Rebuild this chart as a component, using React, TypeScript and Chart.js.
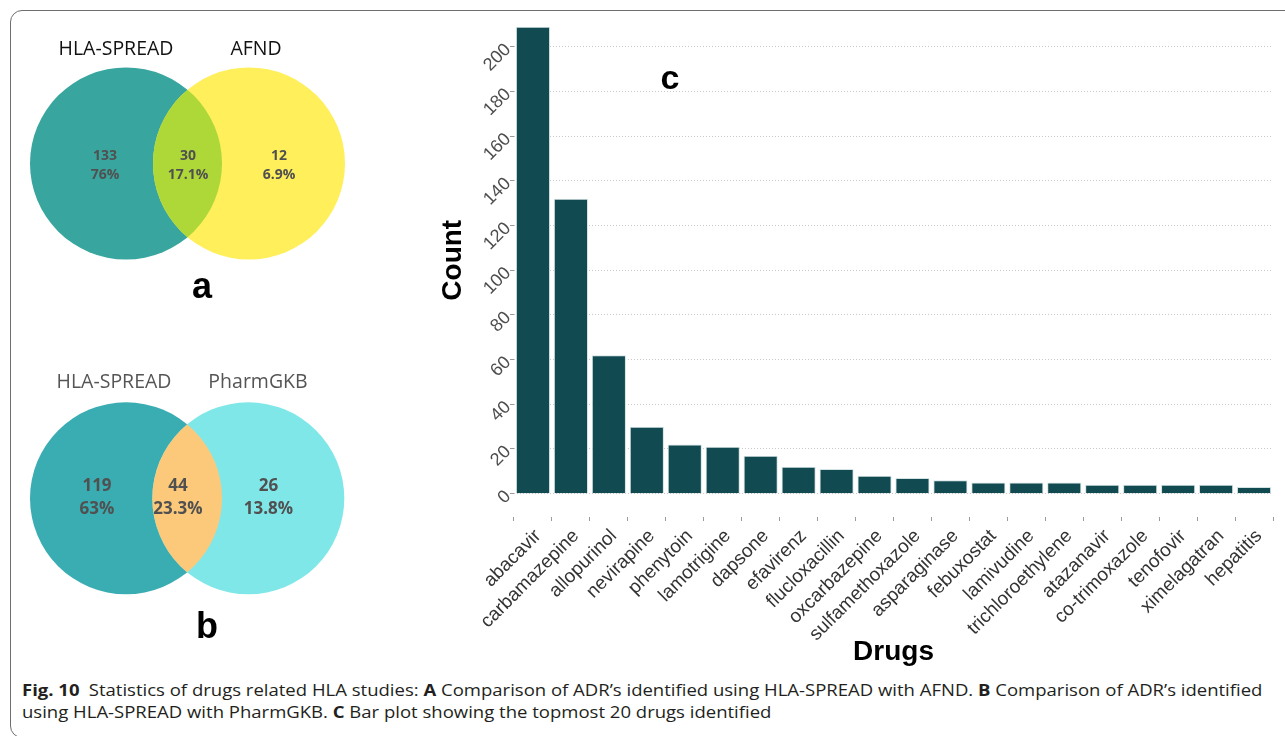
import React, { useEffect, useLayoutEffect, useRef } from 'react';
import { Chart, registerables } from 'chart.js';

Chart.register(...registerables);

// ---------- data ----------
const drugs = [
  'abacavir', 'carbamazepine', 'allopurinol', 'nevirapine', 'phenytoin',
  'lamotrigine', 'dapsone', 'efavirenz', 'flucloxacillin', 'oxcarbazepine',
  'sulfamethoxazole', 'asparaginase', 'febuxostat', 'lamivudine',
  'trichloroethylene', 'atazanavir', 'co-trimoxazole', 'tenofovir',
  'ximelagatran', 'hepatitis',
];
const counts = [209, 132, 62, 30, 22, 21, 17, 12, 11, 8, 7, 6, 5, 5, 5, 4, 4, 4, 4, 3];
const yTicks = [0, 20, 40, 60, 80, 100, 120, 140, 160, 180, 200];

const vennASets = ['HLA-SPREAD', 'AFND'];
const vennACounts = [133, 30, 12];
const vennAPcts = ['76%', '17.1%', '6.9%'];

const vennBSets = ['HLA-SPREAD', 'PharmGKB'];
const vennBCounts = [119, 44, 26];
const vennBPcts = ['63%', '23.3%', '13.8%'];

const ARIAL = "'Liberation Sans', Arial, Helvetica, sans-serif";
const OPEN = "'Open Sans', 'Noto Sans', sans-serif";

// ---------- lens plugin for venn ----------
const lensPlugin = {
  id: 'lens',
  afterDatasetsDraw(chart: any, _args: any, opts: any) {
    const els = chart.getDatasetMeta(0).data as any[];
    if (!els || els.length < 2) return;
    const a = els[0];
    const b = els[1];
    const ctx = chart.ctx as CanvasRenderingContext2D;
    ctx.save();
    ctx.beginPath();
    ctx.arc(a.x, a.y, a.options.radius, 0, Math.PI * 2);
    ctx.clip();
    ctx.beginPath();
    ctx.arc(b.x, b.y, b.options.radius, 0, Math.PI * 2);
    ctx.fillStyle = opts.color;
    ctx.fill();
    ctx.restore();
  },
};

type VennProps = {
  top: number;
  sets: string[];
  counts: number[];
  pcts: string[];
  colors: string[];
  lens: string;
  centers: { x: number; y: number }[];
  radius: number;
  titleColor: string;
  titleY: number;
  titleX: number[];
  numX: number[];
  numY: number[];
  numSize: number;
  tag: string;
  tagX: number;
  tagY: number;
};

function Venn(p: VennProps) {
  const ref = useRef<HTMLCanvasElement>(null);
  useEffect(() => {
    const chart = new Chart(ref.current as HTMLCanvasElement, {
      type: 'bubble',
      data: {
        datasets: [
          {
            data: p.centers.map((c) => ({ x: c.x, y: c.y, r: p.radius })),
            backgroundColor: p.colors,
            borderWidth: 0,
            clip: false,
          } as any,
        ],
      },
      options: {
        animation: false,
        responsive: false,
        maintainAspectRatio: false,
        layout: { padding: 0, autoPadding: false },
        events: [],
        plugins: {
          legend: { display: false },
          tooltip: { enabled: false },
          lens: { color: p.lens },
        } as any,
        scales: {
          x: { type: 'linear', display: false, min: 0, max: 430 },
          y: { type: 'linear', display: false, min: 0, max: 330, reverse: true },
        },
      } as any,
      plugins: [lensPlugin as any],
    });
    return () => chart.destroy();
  }, []);

  const center: React.CSSProperties = {
    position: 'absolute',
    transform: 'translate(-50%, -50%)',
    whiteSpace: 'nowrap',
  };
  return (
    <div style={{ position: 'absolute', left: 0, top: p.top, width: 430, height: 330 }}>
      <canvas ref={ref} width={430} height={330} style={{ position: 'absolute', left: 0, top: 0, width: 430, height: 330 }} />
      {p.sets.map((s, i) => (
        <div key={s + i} style={{ ...center, left: p.titleX[i], top: p.titleY, font: `400 19.5px ${OPEN}`, color: p.titleColor }}>
          {s}
        </div>
      ))}
      {p.counts.map((c, i) => (
        <div key={'n' + i} style={{ ...center, left: p.numX[i], top: p.numY[0], font: `700 ${p.numSize}px ${OPEN}`, color: '#505050' }}>
          {c}
        </div>
      ))}
      {p.pcts.map((c, i) => (
        <div key={'p' + i} style={{ ...center, left: p.numX[i], top: p.numY[1], font: `700 ${p.numSize}px ${OPEN}`, color: '#505050' }}>
          {c}
        </div>
      ))}
      <div style={{ ...center, left: p.tagX, top: p.tagY, font: `700 36px ${ARIAL}`, color: '#000' }}>{p.tag}</div>
    </div>
  );
}

function BarChart() {
  const ref = useRef<HTMLCanvasElement>(null);
  useEffect(() => {
    const chart = new Chart(ref.current as HTMLCanvasElement, {
      type: 'bar',
      data: {
        labels: drugs,
        datasets: [
          {
            data: counts,
            backgroundColor: '#124A51',
            borderColor: '#d3e2e2',
            borderWidth: 1,
            barPercentage: 0.9,
            categoryPercentage: 1,
          },
        ],
      },
      options: {
        animation: false,
        responsive: false,
        maintainAspectRatio: false,
        events: [],
        layout: { padding: { top: 3.5, right: 12, left: 0, bottom: 0 }, autoPadding: false },
        plugins: { legend: { display: false }, tooltip: { enabled: false } },
        scales: {
          x: {
            grid: {
              display: true,
              drawOnChartArea: false,
              drawTicks: true,
              tickLength: 4,
              tickColor: '#9a9a9a',
              tickWidth: 1,
            },
            border: { display: false },
            ticks: {
              autoSkip: false,
              minRotation: 45,
              maxRotation: 45,
              padding: 4,
              labelOffset: 5,
              color: '#333333',
              font: { family: ARIAL, size: 19 },
            },
            title: {
              display: true,
              text: 'Drugs',
              color: '#000',
              font: { family: ARIAL, size: 28, weight: 'bold' },
              padding: { top: 4, bottom: 3 },
            },
            afterFit: (s: any) => {
              s.height = 155;
              s.paddingLeft = 0;
              s.paddingRight = 0;
            },
          },
          y: {
            min: -10.45,
            max: 219.45,
            afterBuildTicks: (s: any) => {
              s.ticks = yTicks.map((v) => ({ value: v }));
            },
            grid: {
              color: '#c9c9c9',
              lineWidth: 1,
              drawTicks: true,
              tickLength: 4,
              tickColor: '#9a9a9a',
              tickBorderDash: [],
            },
            border: { display: false, dash: [1, 2] },
            ticks: {
              minRotation: 45,
              maxRotation: 45,
              padding: 2,
              color: '#4d4d4d',
              font: { family: ARIAL, size: 18 },
            },
            title: {
              display: true,
              text: 'Count',
              color: '#000',
              font: { family: ARIAL, size: 28, weight: 'bold' },
              padding: { top: 6, bottom: 0 },
            },
            afterFit: (s: any) => {
              s.width = 84;
              s.paddingTop = 0;
              s.paddingBottom = 0;
            },
          },
        },
      } as any,
    });
    return () => chart.destroy();
  }, []);
  return (
    <div style={{ position: 'absolute', left: 430, top: 0, width: 855, height: 672 }}>
      <canvas ref={ref} width={855} height={672} style={{ position: 'absolute', left: 0, top: 0, width: 855, height: 672 }} />
      <div style={{ position: 'absolute', left: 240, top: 77, transform: 'translate(-50%, -50%)', font: `700 34px ${ARIAL}`, color: '#000' }}>c</div>
    </div>
  );
}

function Caption() {
  const l1 = useRef<HTMLDivElement>(null);
  const l2 = useRef<HTMLDivElement>(null);
  useLayoutEffect(() => {
    const a = l1.current;
    const b = l2.current;
    if (!a || !b) return;
    const w = a.scrollWidth;
    const k = w > 0 ? 1240 / w : 1;
    a.style.transform = `scaleX(${k})`;
    b.style.transform = `scaleX(${k})`;
  }, []);
  const line: React.CSSProperties = {
    position: 'absolute',
    left: 22,
    whiteSpace: 'nowrap',
    font: `400 16.5px ${OPEN}`,
    lineHeight: '22px',
    color: '#231f20',
    transformOrigin: '0 0',
    display: 'inline-block',
  };
  return (
    <>
      <div ref={l1} style={{ ...line, top: 679 }}>
        <b>Fig. 10</b>{'\u2002'}Statistics of drugs related HLA studies: <b>A</b> Comparison of ADR’s identified using HLA-SPREAD with AFND. <b>B</b> Comparison of ADR’s identified
      </div>
      <div ref={l2} style={{ ...line, top: 701 }}>
        using HLA-SPREAD with PharmGKB. <b>C</b> Bar plot showing the topmost 20 drugs identified
      </div>
    </>
  );
}

export default function App() {
  return (
    <div style={{ position: 'absolute', left: 0, top: 0, width: 1285, height: 736, overflow: 'hidden', background: '#fff' }}>
      <div
        style={{
          position: 'absolute',
          left: 10,
          top: 10,
          width: 1300,
          height: 728,
          border: '1.5px solid #6e6e6e',
          borderRadius: 12,
          boxSizing: 'border-box',
        }}
      />
      <Venn
        top={0}
        sets={vennASets}
        counts={vennACounts}
        pcts={vennAPcts}
        colors={['#38A69F', '#FEEF5B']}
        lens="#AED837"
        centers={[{ x: 126, y: 163.5 }, { x: 249, y: 163.5 }]}
        radius={96}
        titleColor="#111"
        titleY={47}
        titleX={[116, 256]}
        numX={[105, 188, 279]}
        numY={[154, 173]}
        numSize={14}
        tag="a"
        tagX={202}
        tagY={286}
      />
      <Venn
        top={330}
        sets={vennBSets}
        counts={vennBCounts}
        pcts={vennBPcts}
        colors={['#3AADB3', '#80E7E9']}
        lens="#FCC97B"
        centers={[{ x: 126, y: 168.3 }, { x: 248.3, y: 168.3 }]}
        radius={96}
        titleColor="#555"
        titleY={50}
        titleX={[114, 258]}
        numX={[97, 178, 268.5]}
        numY={[153.5, 176.5]}
        numSize={17}
        tag="b"
        tagX={207}
        tagY={296}
      />
      <BarChart />
      <Caption />
    </div>
  );
}
